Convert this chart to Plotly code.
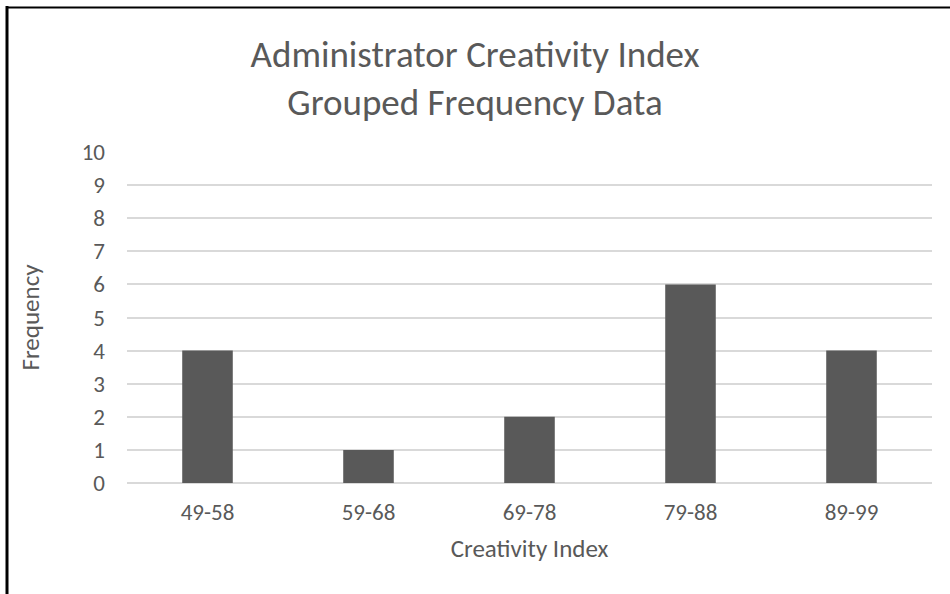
import plotly.graph_objects as go

# Grouped frequency data
categories = ["49-58", "59-68", "69-78", "79-88", "89-99"]
frequencies = [4, 1, 2, 6, 4]
y_ticks = list(range(0, 11))

W, H = 950, 594
ML, MR, MT, MB = 127, 18, 152, 111
PW, PH = W - ML - MR, H - MT - MB

TEXT = "#595959"
FONT = "Carlito, Calibri, Open Sans, sans-serif"


def px_x(p):
    return (p - ML) / PW


def px_y(p):
    return (H - MB - p) / PH


fig = go.Figure(
    go.Bar(
        x=categories,
        y=frequencies,
        marker=dict(color="#595959", line=dict(width=0)),
    )
)

fig.update_layout(
    width=W,
    height=H,
    margin=dict(l=ML, r=MR, t=MT, b=MB),
    paper_bgcolor="white",
    plot_bgcolor="white",
    bargap=0.686,
    showlegend=False,
    font=dict(family=FONT, color=TEXT),
    title=dict(
        text="Administrator Creativity Index<br>Grouped Frequency Data",
        x=0.5,
        xanchor="center",
        y=1 - 67 / H,
        yanchor="middle",
        font=dict(size=37, color=TEXT, family=FONT),
    ),
    xaxis=dict(
        showgrid=False,
        showline=False,
        ticks="",
        tickfont=dict(size=23, color=TEXT),
        ticklabelstandoff=13,
        title=dict(text="Creativity Index", font=dict(size=25, color=TEXT), standoff=14),
    ),
    yaxis=dict(
        range=[0, 10],
        tickvals=y_ticks,
        showgrid=True,
        gridcolor="#d9d9d9",
        gridwidth=1.5,
        zeroline=True,
        zerolinecolor="#d9d9d9",
        zerolinewidth=1.5,
        showline=False,
        ticks="",
        tickfont=dict(size=23, color=TEXT),
        ticklabelstandoff=21,
        title=dict(text="Frequency", font=dict(size=25, color=TEXT), standoff=34),
    ),
    shapes=[
        dict(type="line", xref="paper", yref="paper",
             x0=px_x(7), x1=px_x(7), y0=px_y(6), y1=px_y(H + 10),
             line=dict(color="black", width=3)),
        dict(type="line", xref="paper", yref="paper",
             x0=px_x(6), x1=px_x(W + 10), y0=px_y(7.5), y1=px_y(7.5),
             line=dict(color="black", width=2)),
    ],
)

fig.write_html("out.html")
